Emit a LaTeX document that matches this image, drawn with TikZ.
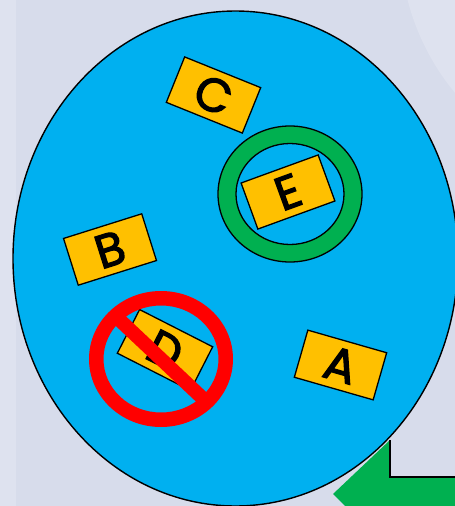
\documentclass[tikz,border=0pt]{standalone}
\usepackage{fontspec}
\setmainfont{Poppins}
\newfontfamily\cardfont[FakeBold=2.6]{Poppins}
\usetikzlibrary{shapes.geometric,calc}
\definecolor{bgc}{RGB}{215,220,235}
\definecolor{bgl}{RGB}{222,226,239}
\definecolor{skyb}{RGB}{0,176,240}
\definecolor{gold}{RGB}{255,192,0}
\definecolor{grn}{RGB}{0,176,80}
\definecolor{rd}{RGB}{255,0,0}
\tikzset{
  card/.style={draw=black, line width=1.3pt, fill=gold, minimum width=82pt, minimum height=49pt, inner sep=0pt, font=\cardfont\fontsize{47}{47}\selectfont},
}
\begin{document}
\begin{tikzpicture}[x=1pt,y=-1pt]
\useasboundingbox (0,0) rectangle (455,506);
\begin{scope}
\clip (0,0) rectangle (455,506);
\fill[bgc] (0,0) rectangle (455,506);
\fill[bgl] (0,0) rectangle (16,506);
\fill[bgl] (640,-60) circle[radius=240];
% green arrow
\fill[grn] (333,494) -- (390,440) -- (390,477) -- (460,477) -- (460,515) -- (390,515) -- (390,550) -- cycle;
\coordinate (ac) at (390,440);
\coordinate (ab) at (390,477);
\coordinate (ae) at (460,477);
\draw[line width=1.2pt] (ac) -- (ab) -- (ae);
% main ellipse
\node[draw=black, line width=1.4pt, fill=skyb, ellipse, minimum width=445pt, minimum height=495pt, inner sep=0pt] (cell) at (235.5,258.5) {};
\end{scope}
% cards
\node[card, rotate=-22] (C) at (213.5,95) {C};
\node[card, rotate=17.5] (B) at (110,249.5) {B};
\node[card, rotate=-16] (A) at (340.5,365) {A};
\node[card, rotate=-27] (D) at (165,350) {D};
% green ring around E
\fill[grn, even odd rule, draw=black, line width=1.3pt] (290,194) ellipse[x radius=72, y radius=68] (290,194) ellipse[x radius=54, y radius=50.5];
\node[card, rotate=20] (E) at (288,192) {E};
% red no sign
\fill[rd, even odd rule] (161,359) ellipse[x radius=72, y radius=68] (161,359) ellipse[x radius=57.5, y radius=53.5];
\begin{scope}
\clip (161,359) ellipse[x radius=60, y radius=56];
\draw[rd, line width=14pt] ($(161,359)+(-70,-66)$) -- ($(161,359)+(70,66)$);
\end{scope}
\end{tikzpicture}
\end{document}
